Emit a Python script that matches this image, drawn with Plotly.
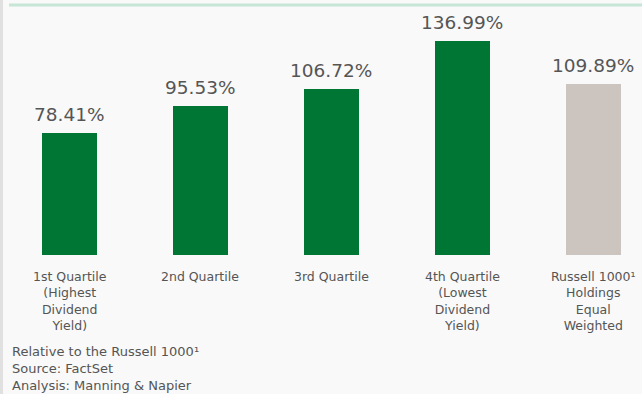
import plotly.graph_objects as go

# Relative performance by dividend-yield quartile
categories = [
    "1st Quartile<br>(Highest<br>Dividend<br>Yield)",
    "2nd Quartile",
    "3rd Quartile",
    "4th Quartile<br>(Lowest<br>Dividend<br>Yield)",
    "Russell 1000¹<br>Holdings<br>Equal<br>Weighted",
]
values = [78.41, 95.53, 106.72, 136.99, 109.89]
bar_colors = ["#007634", "#007634", "#007634", "#007634", "#cbc4bf"]
footnote = ["Relative to the Russell 1000¹", "Source: FactSet", "Analysis: Manning & Napier"]

W, H = 642, 394
plot_bottom_px = 255          # baseline position
px_per_unit = 1.56
y_top = plot_bottom_px / px_per_unit
slot = 130.9                  # pixels per category
first_center = 69.5
x_lo = -first_center / slot
x_hi = (W - first_center) / slot

FONT = "DejaVu Sans"
TXT = "#555555"

x_pos = list(range(len(values)))

fig = go.Figure(
    go.Bar(
        x=x_pos,
        y=values,
        width=55 / slot,
        marker=dict(color=bar_colors, line=dict(width=0)),
        hoverinfo="skip",
    )
)

annotations = []
for i, v in enumerate(values):
    annotations.append(dict(
        x=i, y=v, xref="x", yref="y", text=f"{v:.2f}%",
        showarrow=False, yanchor="bottom", yshift=6,
        font=dict(family=FONT, size=18.5, color=TXT),
    ))
    annotations.append(dict(
        x=i, y=-12 / plot_bottom_px, xref="x", yref="paper", text=categories[i],
        showarrow=False, yanchor="top", align="center",
        font=dict(family=FONT, size=12.5, color=TXT),
    ))

annotations.append(dict(
    x=10 / W, y=-(342 - plot_bottom_px) / plot_bottom_px, xref="paper", yref="paper",
    text="<br>".join(footnote), showarrow=False, xanchor="left", yanchor="top",
    align="left", font=dict(family=FONT, size=13, color=TXT),
))

shapes = [
    # left edge stripe
    dict(type="rect", xref="paper", yref="paper",
         x0=0, x1=3 / W, y0=-(H - plot_bottom_px) / plot_bottom_px, y1=1,
         fillcolor="#e0e0e0", line=dict(width=0), layer="below"),
    # top rule
    dict(type="line", xref="paper", yref="paper",
         x0=9 / W, x1=1, y0=1 - 5 / plot_bottom_px, y1=1 - 5 / plot_bottom_px,
         line=dict(color="#c6e6d6", width=3)),
]

fig.update_layout(
    width=W, height=H,
    margin=dict(l=0, r=0, t=0, b=H - plot_bottom_px),
    paper_bgcolor="#f9f9f9",
    plot_bgcolor="#f9f9f9",
    showlegend=False,
    xaxis=dict(range=[x_lo, x_hi], visible=False, fixedrange=True),
    yaxis=dict(range=[0, y_top], visible=False, fixedrange=True),
    annotations=annotations,
    shapes=shapes,
    bargap=0,
)

fig.write_html("out.html", config={"displayModeBar": False})
